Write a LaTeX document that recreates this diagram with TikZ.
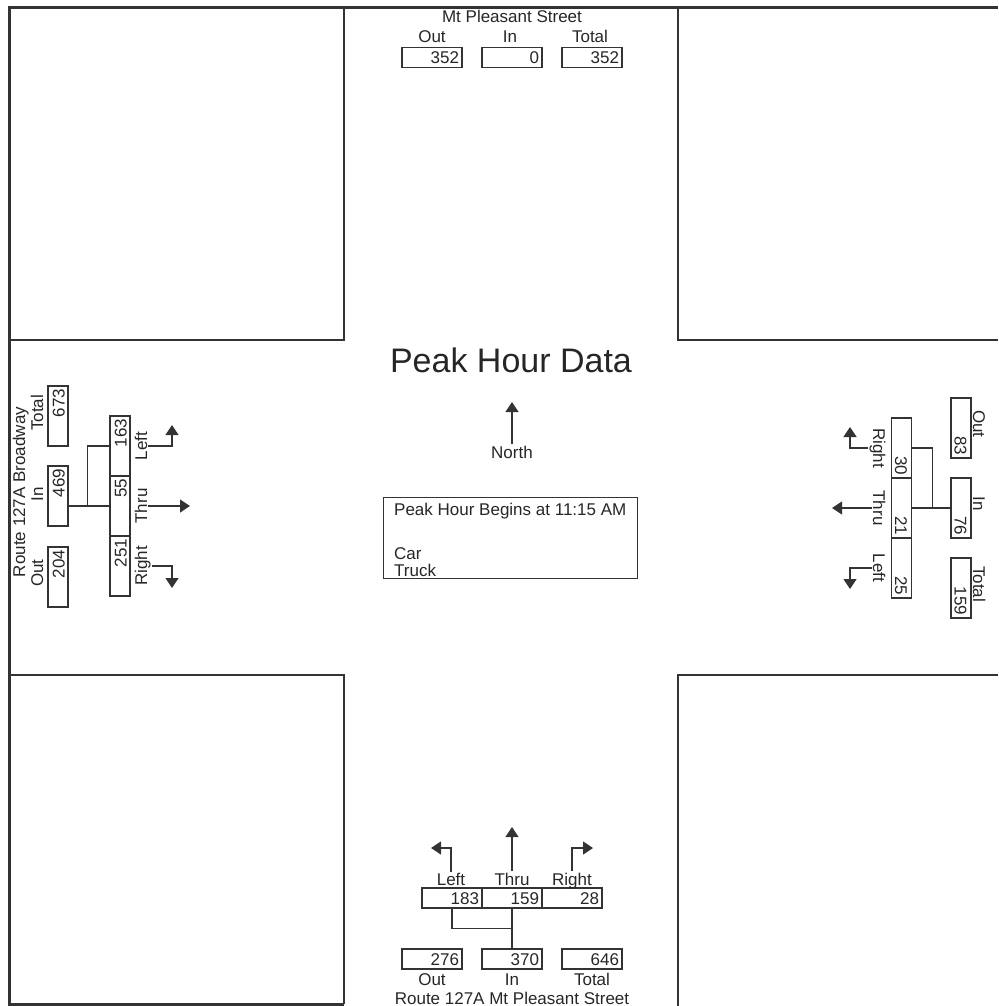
\documentclass[tikz,border=0pt]{standalone}
\usepackage{fontspec}
\setmainfont{Liberation Sans}
\usetikzlibrary{arrows.meta}
\definecolor{lc}{HTML}{333333}
\definecolor{tc}{HTML}{262626}
\newcommand\smallfs{\fontsize{17}{19}\selectfont}
\begin{document}
\begin{tikzpicture}[x=1pt,y=-1pt,
  numbox/.style={draw=lc, line width=1.2pt, minimum height=20pt, text width=54pt, align=right, inner xsep=3pt, inner ysep=0pt, font=\smallfs, text=tc, text height=13pt, text depth=0pt},
  lbl/.style={font=\smallfs, text=tc, inner sep=1pt},
  conn/.style={draw=lc, line width=1.2pt},
  arr/.style={draw=lc, line width=1.3pt, -{Triangle[length=10pt,width=13pt]}},
  border/.style={draw=lc, line width=3pt},
  quad/.style={draw=lc, line width=1.4pt}]
\useasboundingbox (0,0) rectangle (998,1006);
% frame and quadrant blocks
\draw[border] (998,7.5) -- (9,7.5) -- (9,1004) -- (344,1004);
\draw[quad] (344,7.5) -- (344,340) -- (9,340);
\draw[quad] (678,7.5) -- (678,340) -- (998,340);
\draw[quad] (9,675) -- (344,675) -- (344,1004);
\draw[quad] (998,675) -- (678,675) -- (678,1006);

% title and north
\node[font=\fontsize{34}{38}\selectfont, text=tc, anchor=base] (title) at (511,372) {Peak Hour Data};
\node[lbl, anchor=base] (north) at (512,458) {North};
\coordinate (nTip) at (512,402);
\draw[arr] (north.north) -- (nTip);

% info box
\node[draw=lc, line width=1.2pt, minimum width=254pt, minimum height=81pt, anchor=north west, inner sep=0pt] (info) at (383,497) {};
\node[lbl, anchor=base west] (info1) at (393,515) {Peak Hour Begins at 11:15 AM};
\node[lbl, anchor=base west] (info2) at (393,559) {Car};
\node[lbl, anchor=base west] (info3) at (393,576) {Truck};

% top approach
\node[lbl, anchor=base] (tName) at (512,23) {Mt Pleasant Street};
\node[lbl, anchor=base] (tOutL) at (432,43) {Out};
\node[lbl, anchor=base] (tInL) at (510,43) {In};
\node[lbl, anchor=base] (tTotL) at (590,43) {Total};
\node[numbox] (tOut) at (432,57.5) {352};
\node[numbox] (tIn) at (512,57.5) {0};
\node[numbox] (tTot) at (592,57.5) {352};

% left approach
\node[lbl, anchor=base, rotate=90] (lName) at (25,492) {Route 127A Broadway};
\node[lbl, anchor=base, rotate=90] (lTotL) at (43,413) {Total};
\node[lbl, anchor=base, rotate=90] (lInL) at (43,494) {In};
\node[lbl, anchor=base, rotate=90] (lOutL) at (43,573) {Out};
\node[numbox, rotate=90] (lTot) at (58,416) {673};
\node[numbox, rotate=90] (lIn) at (58,496) {469};
\node[numbox, rotate=90] (lOut) at (58,577) {204};
\node[numbox, rotate=90] (lLeft) at (120,446) {163};
\node[numbox, rotate=90] (lThru) at (120,506) {55};
\node[numbox, rotate=90] (lRight) at (120,566) {251};
\node[lbl, anchor=base, rotate=90] (lLeftL) at (147,446) {Left};
\node[lbl, anchor=base, rotate=90] (lThruL) at (147,506) {Thru};
\node[lbl, anchor=base, rotate=90] (lRightL) at (147,566) {Right};
\draw[conn] (lThru.north) -- (lThru.north -| lIn.south);
\draw[conn] (lLeft.north) -- ++(-22,0) |- (lThru.north);
\coordinate (lLeftTip) at (172,425);
\coordinate (lThruTip) at (190,506);
\coordinate (lRightTip) at (172,588);
\draw[arr] (lLeftL.south) -| (lLeftTip);
\draw[arr] (lThruL.south) -- (lThruTip);
\draw[arr] (lRightL.south) -| (lRightTip);

% right approach
\node[lbl, anchor=base, rotate=-90] (rOutL) at (973,424) {Out};
\node[lbl, anchor=base, rotate=-90] (rInL) at (973,504) {In};
\node[lbl, anchor=base, rotate=-90] (rTotL) at (973,584) {Total};
\node[numbox, rotate=-90] (rOut) at (961,428) {83};
\node[numbox, rotate=-90] (rIn) at (961,508) {76};
\node[numbox, rotate=-90] (rTot) at (961,588) {159};
\node[numbox, rotate=-90] (rRight) at (901.5,448) {30};
\node[numbox, rotate=-90] (rThru) at (901.5,508) {21};
\node[numbox, rotate=-90] (rLeft) at (901.5,568) {25};
\node[lbl, anchor=base, rotate=-90] (rRightL) at (873,448) {Right};
\node[lbl, anchor=base, rotate=-90] (rThruL) at (873,508) {Thru};
\node[lbl, anchor=base, rotate=-90] (rLeftL) at (873,568) {Left};
\draw[conn] (rIn.south) -- (rThru.north);
\draw[conn] (rRight.north) -- ++(20,0) |- (rThru.north);
\coordinate (rRightTip) at (850,427);
\coordinate (rThruTip) at (832,508);
\coordinate (rLeftTip) at (850,589);
\draw[arr] (rRightL.south) -| (rRightTip);
\draw[arr] (rThruL.south) -- (rThruTip);
\draw[arr] (rLeftL.south) -| (rLeftTip);

% bottom approach
\node[numbox] (bLeft) at (452,898) {183};
\node[numbox] (bThru) at (512,898) {159};
\node[numbox] (bRight) at (572,898) {28};
\node[lbl, anchor=base] (bLeftL) at (451,885) {Left};
\node[lbl, anchor=base] (bThruL) at (512,885) {Thru};
\node[lbl, anchor=base] (bRightL) at (572,885) {Right};
\node[numbox] (bOut) at (432,959) {276};
\node[numbox] (bIn) at (512,959) {370};
\node[numbox] (bTot) at (592,959) {646};
\node[lbl, anchor=base] (bOutL) at (432,985) {Out};
\node[lbl, anchor=base] (bInL) at (512,985) {In};
\node[lbl, anchor=base] (bTotL) at (592,985) {Total};
\node[lbl, anchor=base] (bName) at (512,1004) {Route 127A Mt Pleasant Street};
\draw[conn] (bIn.north) -- (bThru.south);
\draw[conn] (bLeft.south) -- ++(0,20) -| (bThru.south);
\coordinate (bLeftTip) at (431,848);
\coordinate (bThruTip) at (512,827);
\coordinate (bRightTip) at (593,848);
\draw[arr] (bLeftL.north) |- (bLeftTip);
\draw[arr] (bThruL.north) -- (bThruTip);
\draw[arr] (bRightL.north) |- (bRightTip);
\end{tikzpicture}
\end{document}
